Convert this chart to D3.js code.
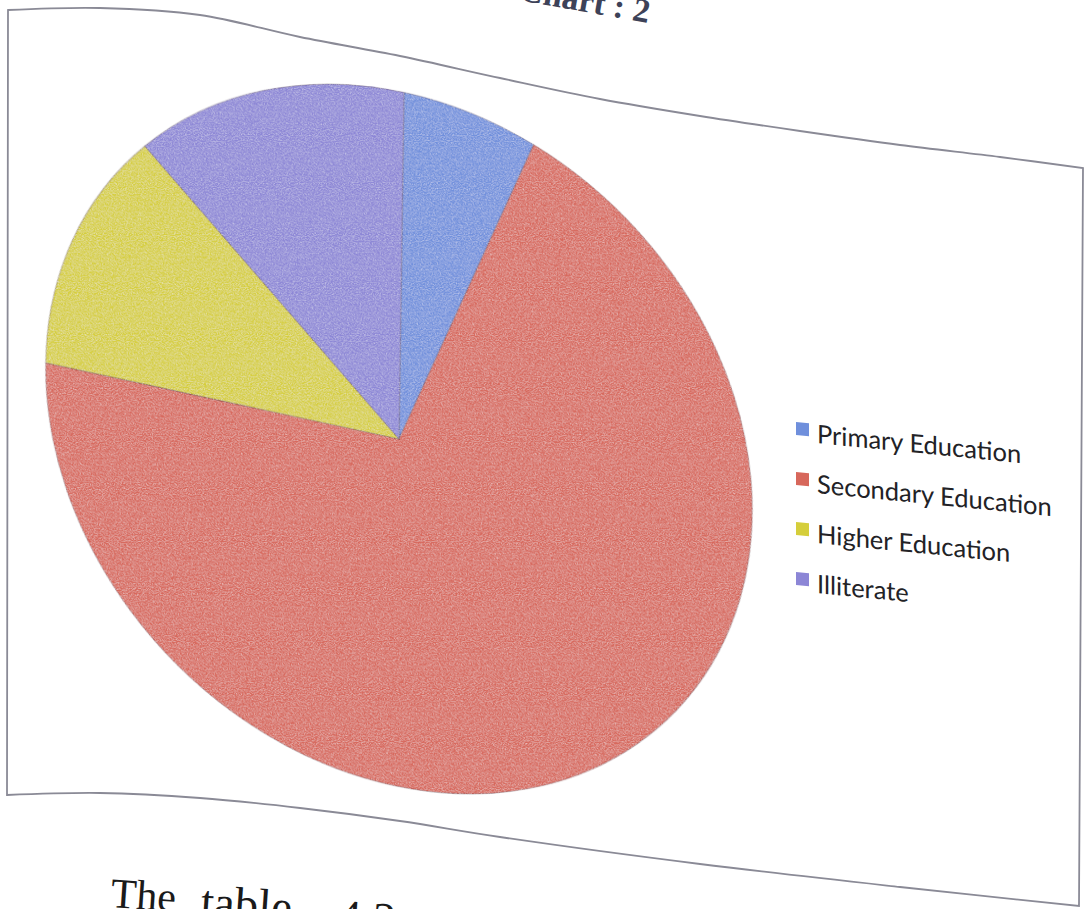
<!DOCTYPE html>
<html>
<head>
<meta charset="utf-8">
<script src="https://cdn.jsdelivr.net/npm/d3@7"></script>
<style>
  html, body { margin: 0; padding: 0; background: #ffffff; }
  svg { display: block; }
</style>
</head>
<body>
<svg id="chart" width="1086" height="909"></svg>
<script>
// Education level of respondents (share, %)
const categories = ["Primary Education", "Secondary Education", "Higher Education", "Illiterate"];
const values = [6, 69, 12, 13];
const sliceColors = ["#6f8fdc", "#d7675b", "#d5ce3b", "#8c86d6"];

const svg = d3.select("#chart");

// grainy print texture
const defs = svg.append("defs");
const grain = defs.append("filter").attr("id", "grain")
  .attr("x", "-5%").attr("y", "-5%").attr("width", "110%").attr("height", "110%");
grain.append("feTurbulence").attr("type", "fractalNoise").attr("baseFrequency", 0.85)
  .attr("numOctaves", 2).attr("seed", 7).attr("result", "noise");
grain.append("feColorMatrix").attr("in", "noise").attr("type", "matrix")
  .attr("values", "0 0 0 0 1  0 0 0 0 1  0 0 0 0 1  0.9 0 0 0 -0.35").attr("result", "specks");
grain.append("feComposite").attr("in", "specks").attr("in2", "SourceGraphic")
  .attr("operator", "in").attr("result", "clipped");
const merge = grain.append("feMerge");
merge.append("feMergeNode").attr("in", "SourceGraphic");
merge.append("feMergeNode").attr("in", "clipped");

// page frame (the printed chart border, bent with the paper)
const topEdge = [[8,10],[100,8],[200,15],[300,37],[400,56],[500,78],[600,99],[700,116],[800,131],[900,145],[1000,157],[1083,168]];
const bottomEdge = [[1079,906],[900,887],[700,864],[500,837],[400,821],[300,808],[200,798],[100,793],[7,795]];
const curve = d3.line().curve(d3.curveCatmullRom.alpha(0.5));
const bottomPath = curve(bottomEdge);
svg.append("path")
  .attr("d", curve(topEdge) + "L" + bottomPath.slice(1) + "Z")
  .attr("fill", "none")
  .attr("stroke", "#8a8a96")
  .attr("stroke-width", 1.8);

// title, mostly cut off by the top edge of the page
svg.append("text")
  .attr("transform", "translate(648,23) rotate(10)")
  .attr("text-anchor", "end")
  .attr("font-family", "Liberation Serif, serif")
  .attr("font-weight", "bold")
  .attr("font-size", 34)
  .attr("fill", "#3d4258")
  .text("Chart : 2");

// pie
const start = 12.4 * Math.PI / 180;
const pie = d3.pie().sort(null).value(d => d)
  .startAngle(start)
  .endAngle(start + 2 * Math.PI);
const arc = d3.arc().innerRadius(0).outerRadius(355);

const pieG = svg.append("g")
  .attr("transform", "matrix(0.975,0,0.2,1,399,439)")
  .attr("filter", "url(#grain)");
pieG.selectAll("path")
  .data(pie(values))
  .join("path")
  .attr("d", arc)
  .attr("fill", (d, i) => sliceColors[i])
  .attr("stroke", "rgba(70,40,60,0.35)")
  .attr("stroke-width", 1);

// legend
const legend = svg.append("g").attr("transform", "translate(796,0) skewY(5.6)");
const baselines = [441, 491, 541, 591];
const rows = legend.selectAll("g.row")
  .data(categories)
  .join("g")
  .attr("class", "row")
  .attr("transform", (d, i) => `translate(0,${baselines[i]})`);
rows.append("rect")
  .attr("x", 0).attr("y", -19)
  .attr("width", 13).attr("height", 13)
  .attr("fill", (d, i) => sliceColors[i]);
rows.append("text")
  .attr("x", 21).attr("y", 0)
  .attr("font-family", "Lato, 'Open Sans', sans-serif")
  .attr("font-size", 25.5)
  .attr("fill", "#222226")
  .text(d => d);

// running text below the chart
const words = ["The", "table", "4.2"];
const wordX = [110, 200, 337];
const wordY = [907, 917, 931];
const wordSize = [42, 47, 46];
svg.selectAll("text.body")
  .data(words)
  .join("text")
  .attr("class", "body")
  .attr("transform", (d, i) => `translate(${wordX[i]},${wordY[i]}) rotate(4)`)
  .attr("font-family", "Liberation Serif, serif")
  .attr("font-size", (d, i) => wordSize[i])
  .attr("fill", "#1a1a1a")
  .text(d => d);
</script>
</body>
</html>
